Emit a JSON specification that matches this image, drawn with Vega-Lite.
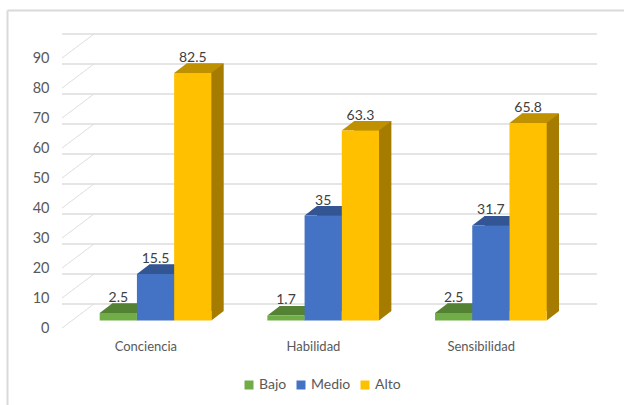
{
"$schema":"https://vega.github.io/schema/vega-lite/v6.json",
"width":503,"height":270,
"autosize":{"type":"none"},
"padding":{"left":62,"top":58,"right":59,"bottom":77},
"background":"white",
"view":{"stroke":null},
"config":{"font":"Lato","view":{"stroke":null}},
"datasets":{
"valores":[
{"categoria":"Conciencia","serie":"Bajo","valor":2.5},
{"categoria":"Conciencia","serie":"Medio","valor":15.5},
{"categoria":"Conciencia","serie":"Alto","valor":82.5},
{"categoria":"Habilidad","serie":"Bajo","valor":1.7},
{"categoria":"Habilidad","serie":"Medio","valor":35},
{"categoria":"Habilidad","serie":"Alto","valor":63.3},
{"categoria":"Sensibilidad","serie":"Bajo","valor":2.5},
{"categoria":"Sensibilidad","serie":"Medio","valor":31.7},
{"categoria":"Sensibilidad","serie":"Alto","valor":65.8}
],
"rejilla":[{"v":0},{"v":10},{"v":20},{"v":30},{"v":40},{"v":50},{"v":60},{"v":70},{"v":80},{"v":90}]
},
"layer":[
{"data":{"name":"rejilla"},
 "mark":{"type":"rule","stroke":"#dcdcdc","strokeWidth":1.4,"xOffset":32,"yOffset":-16.5},
 "encoding":{"y":{"field":"v","type":"quantitative","scale":{"domain":[0,90],"range":[262.5,-7.5],"nice":false},
   "axis":{"values":[0,10,20,30,40,50,60,70,80,90],"title":null,"domain":false,"ticks":false,"grid":false,"labelOverlap":false,"labelOffset":7.5,"labelPadding":13,"labelFont":"Lato","labelFontSize":14.5,"labelColor":"#595959"}}}},
{"data":{"name":"rejilla"},
 "mark":{"type":"point","shape":"M0 7.5L32 -16.5","size":4,"filled":false,"opacity":1,"stroke":"#dedede","strokeWidth":1},
 "encoding":{"x":{"value":0},"y":{"field":"v","type":"quantitative","axis":{"values":[0,10,20,30,40,50,60,70,80,90],"title":null,"domain":false,"ticks":false,"grid":false,"labelOverlap":false,"labelOffset":7.5,"labelPadding":13,"labelFont":"Lato","labelFontSize":14.5,"labelColor":"#595959"}}}},
{"data":{"values":[{"a":1}]},
 "mark":{"type":"rule","stroke":"#d9d9d9","strokeWidth":2},
 "encoding":{"x":{"value":-54.5},"x2":{"value":562},"y":{"value":-47.5},"y2":{"value":-47.5}}},
{"data":{"values":[{"a":1}]},
 "mark":{"type":"rule","stroke":"#d9d9d9","strokeWidth":2},
 "encoding":{"x":{"value":-54.5},"x2":{"value":-54.5},"y":{"value":-47.5},"y2":{"value":347}}},
{"data":{"name":"valores"},
 "encoding":{
  "x":{"field":"categoria","type":"nominal","sort":["Conciencia","Habilidad","Sensibilidad"],
    "scale":{"range":[9.7,512.7],"paddingInner":0.334,"paddingOuter":0.167},
    "axis":{"title":null,"domain":false,"ticks":false,"labelAngle":0,"labelOffset":-9.7,"labelPadding":12,"labelFont":"Lato","labelFontSize":13,"labelColor":"#595959"}},
  "xOffset":{"field":"serie","type":"nominal","sort":["Bajo","Medio","Alto"],"scale":{"paddingInner":0,"paddingOuter":0}},
  "y":{"field":"valor","type":"quantitative","axis":{"values":[0,10,20,30,40,50,60,70,80,90],"title":null,"domain":false,"ticks":false,"grid":false,"labelOverlap":false,"labelOffset":7.5,"labelPadding":13,"labelFont":"Lato","labelFontSize":14.5,"labelColor":"#595959"}}
 },
 "layer":[
  {"mark":{"type":"bar","yOffset":-9.5},
   "encoding":{"xOffset":{"field":"serie","type":"nominal","sort":["Bajo","Medio","Alto"],"scale":{"paddingInner":0,"paddingOuter":0,"range":[12.4,124]}},
     "color":{"field":"serie","type":"nominal","legend":null,"scale":{"domain":["Bajo","Medio","Alto"],"range":["#44702b","#2c4a80","#a67c00"]}}}},
  {"layer":[
   {"mark":{"type":"point","shape":"M18.6 0L31 -9.5L18.6 -9.5Z","size":4,"filled":true,"opacity":1},
    "encoding":{"y":{"datum":0,"type":"quantitative","axis":{"values":[0,10,20,30,40,50,60,70,80,90],"title":null,"domain":false,"ticks":false,"grid":false,"labelOverlap":false,"labelOffset":7.5,"labelPadding":13,"labelFont":"Lato","labelFontSize":14.5,"labelColor":"#595959"}},"color":{"field":"serie","type":"nominal","legend":null,"scale":{"domain":["Bajo","Medio","Alto"],"range":["#44702b","#2c4a80","#a67c00"]}}}},
   {"mark":{"type":"point","shape":"M-18.6 0L18.6 0L31 -9.5L-6.2 -9.5Z","size":4,"filled":true,"opacity":1},
    "encoding":{"color":{"field":"serie","type":"nominal","legend":null,"scale":{"domain":["Bajo","Medio","Alto"],"range":["#548235","#335593","#bf9000"]}}}},
   {"mark":{"type":"bar"},
    "encoding":{"color":{"field":"serie","type":"nominal","scale":{"domain":["Bajo","Medio","Alto"],"range":["#70ad47","#4472c4","#ffc000"]},
      "legend":{"title":null,"orient":"none","legendX":180,"legendY":320,"direction":"horizontal","symbolType":"square","symbolSize":81,"symbolStrokeWidth":0,"labelFont":"Lato","labelFontSize":14,"labelColor":"#595959","labelOffset":3,"columnPadding":7}}}},
   {"mark":{"type":"text","baseline":"alphabetic","dy":-11,"font":"Lato","fontSize":14,"fill":"#404040"},
    "encoding":{"text":{"field":"valor","type":"quantitative"}}}
  ],
  "resolve":{"scale":{"color":"independent"}}}
 ],
 "resolve":{"scale":{"color":"independent","xOffset":"independent"}}
}
],
"resolve":{"scale":{"color":"independent"}}
}
